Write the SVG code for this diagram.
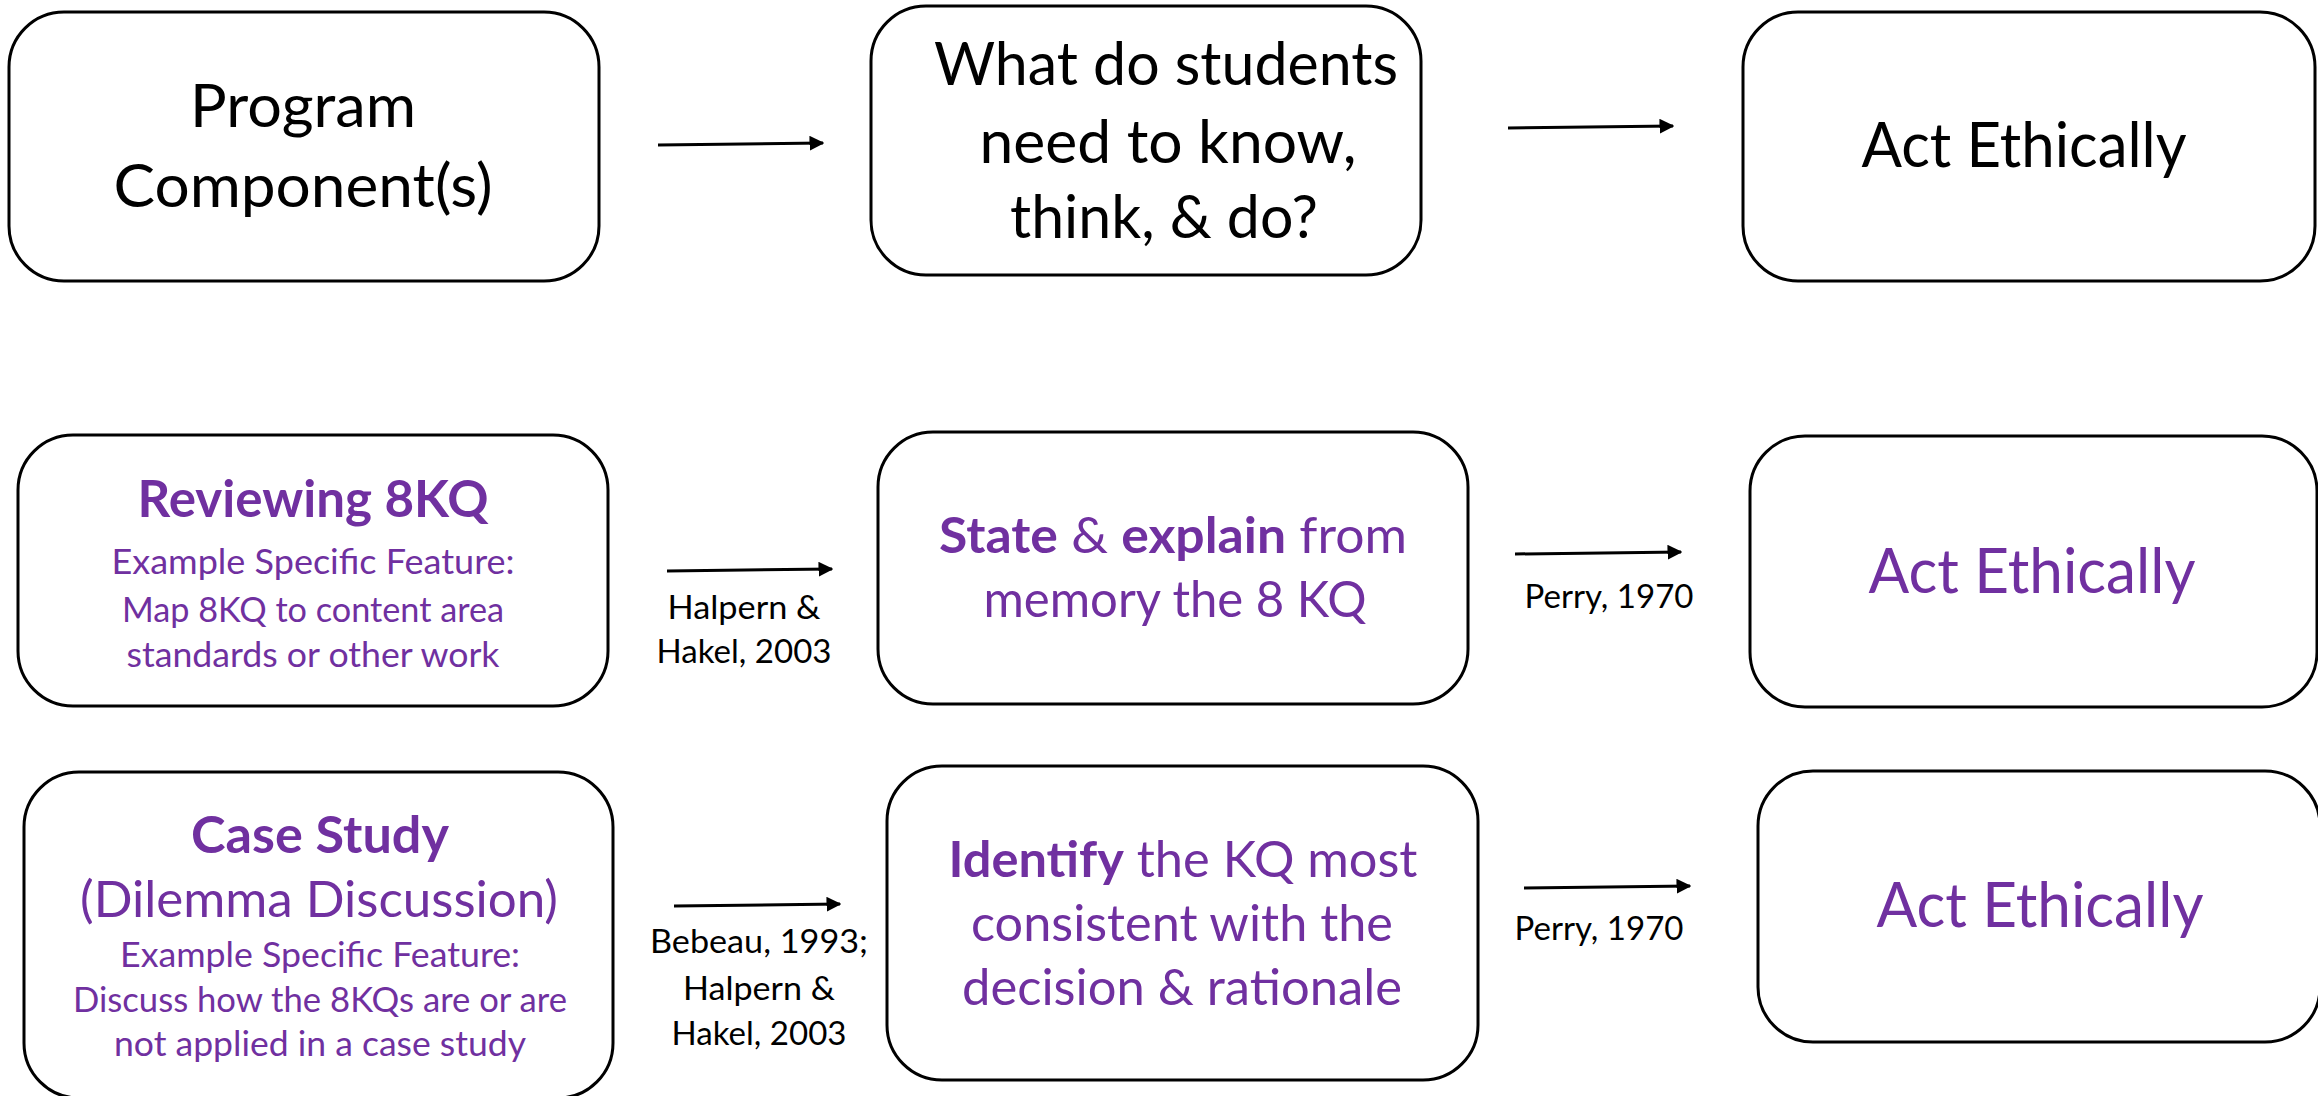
<svg xmlns="http://www.w3.org/2000/svg" width="2318" height="1096" viewBox="0 0 2318 1096">
  <style>
    .box { fill: #ffffff; stroke: #000000; stroke-width: 3; }
    .t { font-family: Lato, "Open Sans", "Liberation Sans", sans-serif; text-anchor: middle; fill: #000000; }
    .p { fill: #7030A0; }
    .b { font-weight: 700; }
    .arrow { stroke: #000000; stroke-width: 3; fill: none; marker-end: url(#head); }
    .lbl { font-size: 32px; }
  </style>
  <defs>
    <marker id="head" viewBox="0 0 10 10" refX="9" refY="5" markerWidth="5" markerHeight="5" markerUnits="strokeWidth" orient="auto">
      <path d="M0,0 L10,5 L0,10 z" fill="#000000"/>
    </marker>
  </defs>
  <rect width="2318" height="1096" fill="#ffffff"/>

  <!-- connectors with their citation labels -->
  <g id="connectors">
    <line class="arrow" x1="658" y1="145" x2="823" y2="143"/>
    <line class="arrow" x1="1508" y1="128" x2="1673" y2="126"/>
    <line class="arrow" x1="667" y1="571" x2="832" y2="569"/>
    <line class="arrow" x1="1515" y1="554" x2="1681" y2="552"/>
    <line class="arrow" x1="674" y1="906" x2="840" y2="904"/>
    <line class="arrow" x1="1524" y1="888" x2="1690" y2="886"/>
    <text class="t lbl" x="744" y="619" textLength="153" lengthAdjust="spacingAndGlyphs">Halpern &amp;</text>
    <text class="t lbl" x="744" y="663" textLength="175" lengthAdjust="spacingAndGlyphs">Hakel, 2003</text>
    <text class="t lbl" x="1609" y="608" textLength="169" lengthAdjust="spacingAndGlyphs">Perry, 1970</text>
    <text class="t lbl" x="759" y="953" textLength="218" lengthAdjust="spacingAndGlyphs">Bebeau, 1993;</text>
    <text class="t lbl" x="759" y="1000" textLength="152" lengthAdjust="spacingAndGlyphs">Halpern &amp;</text>
    <text class="t lbl" x="759" y="1045" textLength="175" lengthAdjust="spacingAndGlyphs">Hakel, 2003</text>
    <text class="t lbl" x="1599" y="940" textLength="169" lengthAdjust="spacingAndGlyphs">Perry, 1970</text>
  </g>

  <!-- top row: generic model -->
  <g id="program-component">
    <rect class="box" x="9" y="12" width="590" height="269" rx="55"/>
    <text class="t" font-size="60" x="303" y="127" textLength="226" lengthAdjust="spacingAndGlyphs">Program</text>
    <text class="t" font-size="60" x="303" y="207" textLength="379" lengthAdjust="spacingAndGlyphs">Component(s)</text>
  </g>
  <g id="students-need">
    <rect class="box" x="871" y="6" width="550" height="269" rx="55"/>
    <text class="t" font-size="60" x="1166" y="85" textLength="464" lengthAdjust="spacingAndGlyphs">What do students</text>
    <text class="t" font-size="60" x="1168" y="163" textLength="377" lengthAdjust="spacingAndGlyphs">need to know,</text>
    <text class="t" font-size="60" x="1164" y="238" textLength="308" lengthAdjust="spacingAndGlyphs">think, &amp; do?</text>
  </g>
  <g id="act-ethically-1">
    <rect class="box" x="1743" y="12" width="572" height="269" rx="55"/>
    <text class="t" font-size="61" x="2024" y="167" textLength="325" lengthAdjust="spacingAndGlyphs">Act Ethically</text>
  </g>

  <!-- middle row: reviewing 8KQ -->
  <g id="reviewing-8kq">
    <rect class="box" x="18" y="435" width="590" height="271" rx="55"/>
    <text class="t p b" font-size="51" x="313" y="517" textLength="351" lengthAdjust="spacingAndGlyphs">Reviewing 8KQ</text>
    <text class="t p" font-size="34" x="313" y="574" textLength="403" lengthAdjust="spacingAndGlyphs">Example Specific Feature:</text>
    <text class="t p" font-size="34" x="313" y="622" textLength="382" lengthAdjust="spacingAndGlyphs">Map 8KQ to content area</text>
    <text class="t p" font-size="34" x="313" y="667" textLength="373" lengthAdjust="spacingAndGlyphs">standards or other work</text>
  </g>
  <g id="state-explain">
    <rect class="box" x="878" y="432" width="590" height="272" rx="55"/>
    <text class="t p" font-size="50" x="1173" y="553" textLength="468" lengthAdjust="spacingAndGlyphs"><tspan class="b">State</tspan> &amp; <tspan class="b">explain</tspan> from</text>
    <text class="t p" font-size="50" x="1175" y="617" textLength="383" lengthAdjust="spacingAndGlyphs">memory the 8 KQ</text>
  </g>
  <g id="act-ethically-2">
    <rect class="box" x="1750" y="436" width="567" height="271" rx="55"/>
    <text class="t p" font-size="61" x="2032" y="593" textLength="327" lengthAdjust="spacingAndGlyphs">Act Ethically</text>
  </g>

  <!-- bottom row: case study -->
  <g id="case-study">
    <rect class="box" x="24" y="772" width="589" height="326" rx="55"/>
    <text class="t p b" font-size="51" x="320" y="853" textLength="258" lengthAdjust="spacingAndGlyphs">Case Study</text>
    <text class="t p" font-size="51" x="319" y="917" textLength="478" lengthAdjust="spacingAndGlyphs">(Dilemma Discussion)</text>
    <text class="t p" font-size="34" x="320" y="967" textLength="400" lengthAdjust="spacingAndGlyphs">Example Specific Feature:</text>
    <text class="t p" font-size="34" x="320" y="1012" textLength="494" lengthAdjust="spacingAndGlyphs">Discuss how the 8KQs are or are</text>
    <text class="t p" font-size="34" x="320" y="1056" textLength="412" lengthAdjust="spacingAndGlyphs">not applied in a case study</text>
  </g>
  <g id="identify-kq">
    <rect class="box" x="887" y="766" width="591" height="314" rx="55"/>
    <text class="t p" font-size="50" x="1183" y="877" textLength="469" lengthAdjust="spacingAndGlyphs"><tspan class="b">Identify</tspan> the KQ most</text>
    <text class="t p" font-size="50" x="1182" y="941" textLength="422" lengthAdjust="spacingAndGlyphs">consistent with the</text>
    <text class="t p" font-size="50" x="1182" y="1005" textLength="440" lengthAdjust="spacingAndGlyphs">decision &amp; rationale</text>
  </g>
  <g id="act-ethically-3">
    <rect class="box" x="1758" y="771" width="562" height="271" rx="55"/>
    <text class="t p" font-size="61" x="2040" y="927" textLength="327" lengthAdjust="spacingAndGlyphs">Act Ethically</text>
  </g>
</svg>
